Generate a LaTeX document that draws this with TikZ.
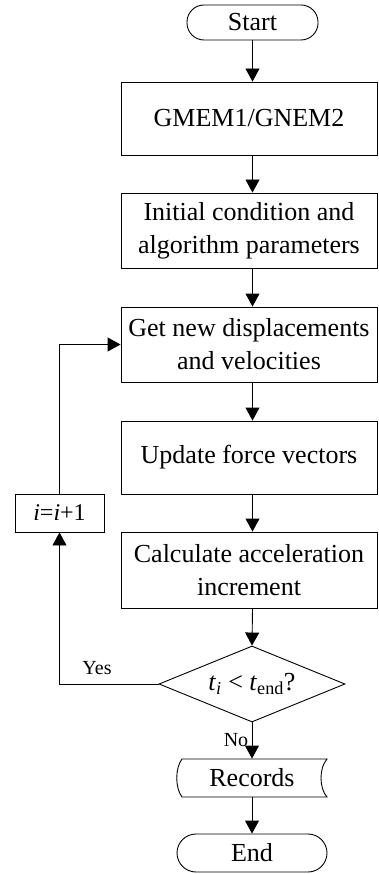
\documentclass[tikz,border=0pt]{standalone}
\usepackage{fontspec}
\setmainfont{Liberation Serif}
\usetikzlibrary{arrows.meta,shapes.geometric}
\begin{document}
\begin{tikzpicture}[x=1pt,y=-1pt,line width=0.9pt,
  every node/.style={font=\fontsize{26}{33}\selectfont,align=center,inner sep=0pt},
  proc/.style={draw,minimum width=256pt,minimum height=75pt},
  term/.style={draw,minimum width=150pt,minimum height=38pt,rounded corners=19pt},
  lbl/.style={font=\fontsize{20}{24}\selectfont},
  arr/.style={-{Triangle[length=13pt,width=14pt]}}]
\useasboundingbox (0,0) rectangle (378,874);
\node[term,minimum width=131pt,minimum height=35pt,rounded corners=17pt] (start) at (252.5,22.5) {Start};
\node[proc,minimum height=73pt] (gmem) at (249,118.5) {GMEM1/GNEM2};
\node[proc] (init) at (249,230.5) {Initial condition and\\algorithm parameters};
\node[proc] (disp) at (249,344.5) {Get new displacements\\and velocities};
\node[proc,minimum height=73pt] (force) at (249,457.5) {Update force vectors};
\node[proc,minimum height=76pt] (acc) at (249,570) {Calculate acceleration\\increment};
\node[draw,diamond,aspect=2.45,minimum width=186pt,minimum height=76pt] (dec) at (252,684)
  {\textit{t}\textsubscript{\textit{i}} {<} \textit{t}\textsubscript{end}?};
\node[minimum width=150pt,minimum height=38pt] (rec) at (252,778) {Records};
\draw (182,759) -- (327,759) .. controls (319,768) and (319,788) .. (327,797)
  -- (182,797) .. controls (175,788) and (175,768) .. (182,759) -- cycle;
\node[term] (endn) at (252,853) {End};
\node[draw,minimum width=89pt,minimum height=38pt,font=\fontsize{24}{28}\selectfont] (inc) at (59.5,513) {\textit{i}=\textit{i}+1};
\draw[arr] (start) -- (start |- gmem.north);
\draw[arr] (gmem.south -| start) -- (init.north -| start);
\draw[arr] (init.south -| start) -- (disp.north -| start);
\draw[arr] (disp.south -| start) -- (force.north -| start);
\draw[arr] (force.south -| start) -- (acc.north -| start);
\draw[arr] (acc.south -| start) -- (dec.north);
\draw[arr] (dec.south) -- (rec.north);
\draw[arr] (rec.south) -- (endn.north);
\draw[arr] (dec.west) -| (inc.south);
\draw[arr] (inc.north) |- (disp.west);
\node[lbl] (yes) at (97,668) {Yes};
\node[lbl] (no) at (236,740) {No};
\end{tikzpicture}
\end{document}
